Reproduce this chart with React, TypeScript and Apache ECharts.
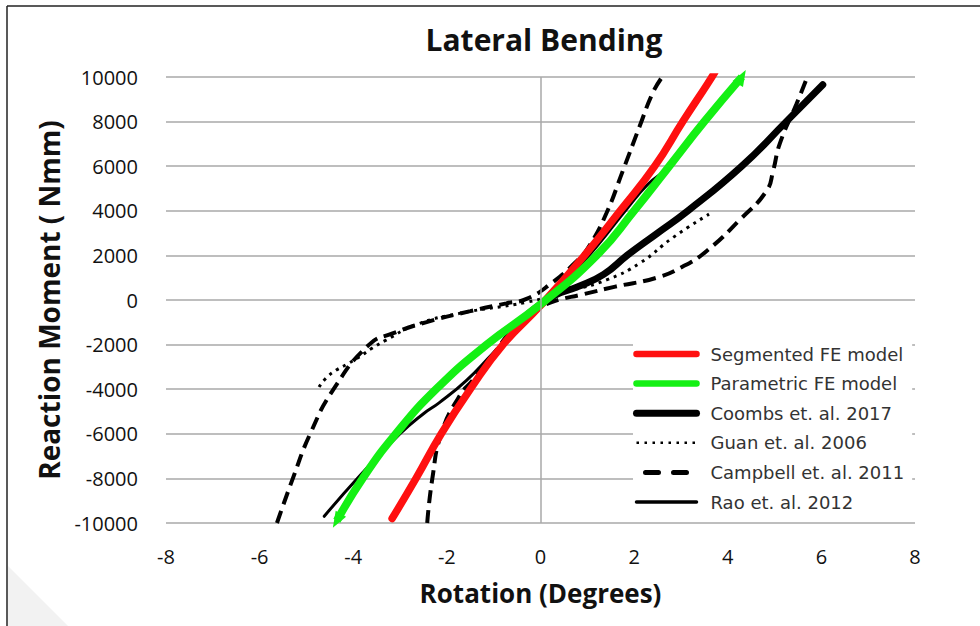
import React, { useEffect, useRef } from "react";
import * as echarts from "echarts";

// ---------- data (Rotation in degrees, Reaction moment in Nmm) ----------
const xTicks = { min: -8, max: 8, interval: 2 };
const yTicks = { min: -10000, max: 10000, interval: 2000 };

const segmented: number[][] = [
  [-3.17, -9800], [-2.66, -8000], [-2.12, -6000], [-1.5, -4000], [-0.8, -2000],
  [0, -250], [0.9, 1900], [1.7, 4000], [2.44, 6000], [3.04, 8000], [3.57, 9700], [3.72, 10200],
];

const parametric: number[][] = [
  [-4.35, -9900], [-3.8, -8000], [-3.09, -6000], [-2.23, -4000], [-1.15, -2000],
  [0, -200], [1.2, 2000], [2.0, 4000], [2.75, 6000], [3.5, 8000], [4.3, 10000],
];

const coombs: number[][] = [
  [-0.25, -600], [0.3, 200], [0.8, 600], [1.35, 1150], [1.85, 2000], [2.5, 3000],
  [3.15, 4000], [4.3, 6000], [5.25, 8000], [6.03, 9650],
];

const guan: number[][] = [
  [-4.73, -3900], [-4.58, -3500], [-4.36, -3140], [-4.15, -2900], [-3.87, -2550],
  [-3.59, -2150], [-3.3, -1800], [-2.65, -1100], [-1.73, -600], [-0.3, -100],
  [0.69, 450], [1.41, 900], [2.12, 1650], [2.83, 2800], [3.6, 3850],
];

const campbellA: number[][] = [
  [-5.63, -10000], [-5.29, -8000], [-4.92, -6000], [-4.42, -4000], [-3.66, -2000],
  [-3.16, -1500], [-2.45, -1000], [-1.5, -500], [-0.73, -150],
  [-0.3, 50], [0.2, 700], [0.8, 1800], [1.05, 2450], [1.41, 3900], [1.76, 5800],
  [2.12, 7800], [2.4, 9300], [2.6, 10000],
];

const campbellB: number[][] = [
  [-2.42, -10000], [-2.31, -8000], [-2.12, -6000], [-1.73, -4300], [-1.45, -3600],
  [-1.0, -2400], [-0.5, -1100], [0, -350], [0.3, -50], [0.9, 250], [1.6, 600],
  [2.48, 1000], [3.04, 1500], [3.55, 2200], [4.26, 3600], [4.83, 4900], [4.97, 5800],
  [5.11, 7000], [5.47, 8800], [5.7, 10000],
];

const rao: number[][] = [
  [-4.62, -9700], [-3.87, -7900], [-3.0, -6000], [-2.5, -5100], [-2.16, -4600],
  [-1.58, -3600], [-1.02, -2400], [-0.5, -1300], [0, -350], [0.6, 1000], [1.2, 2400],
  [1.85, 4100], [2.3, 5200], [2.75, 6000], [3.5, 8000], [4.18, 9700],
];

const names = {
  seg: "Segmented FE model",
  par: "Parametric FE model",
  coo: "Coombs et. al. 2017",
  gua: "Guan et. al. 2006",
  cam: "Campbell et. al. 2011",
  rao: "Rao et. al. 2012",
};

const RED = "#ff1010";
const GREEN = "#14f014";
const BLACK = "#000000";
const GRID = "#a8a8a8";
const SMOOTH = 0.5;

export default function App() {
  const ref = useRef<HTMLDivElement>(null);

  useEffect(() => {
    if (!ref.current) return;
    const chart = echarts.init(ref.current, undefined, { renderer: "svg" });

    const greenData = parametric.map((p, i) => {
      if (i === 0) return { value: p, symbol: "triangle", symbolSize: [12, 16], symbolRotate: 150 };
      if (i === parametric.length - 1)
        return { value: p, symbol: "triangle", symbolSize: [12, 16], symbolRotate: -30 };
      return { value: p };
    });

    const option: any = {
      animation: false,
      backgroundColor: "#ffffff",
      textStyle: { fontFamily: "Open Sans" },
      grid: { left: 166, right: 65, top: 77, bottom: 103, containLabel: false },
      graphic: [
        { type: "line", shape: { x1: 7, y1: 6, x2: 980, y2: 6 }, style: { stroke: "#222", lineWidth: 1.5 } },
        { type: "line", shape: { x1: 7, y1: 6, x2: 7, y2: 626 }, style: { stroke: "#222", lineWidth: 1.5 } },
        { type: "polygon", shape: { points: [[8, 566], [68, 626], [8, 626]] }, style: { fill: "#f2f2f2" }, z: -1 },
        {
          type: "text",
          x: 544,
          y: 39,
          style: {
            text: "Lateral Bending",
            fontFamily: "Open Sans",
            fontWeight: "bold",
            fontSize: 30,
            fill: "#111",
            textAlign: "center",
            textVerticalAlign: "middle",
          },
        },
      ],
      legend: {
        orient: "vertical",
        left: 633,
        top: 343,
        itemWidth: 60,
        itemHeight: 14,
        itemGap: 11.6,
        padding: [2, 8, 6, 0],
        backgroundColor: "#ffffff",
        itemStyle: { color: "rgba(0,0,0,0)", borderWidth: 0, opacity: 0 },
        textStyle: { fontFamily: "DejaVu Sans", fontSize: 18, color: "#333", lineHeight: 18, padding: [0, 0, 0, 9] },
        data: [
          { name: names.seg, lineStyle: { color: RED, width: 6.5, cap: "round", type: "solid" } },
          { name: names.par, lineStyle: { color: GREEN, width: 6.5, cap: "round", type: "solid" } },
          { name: names.coo, lineStyle: { color: BLACK, width: 7, cap: "round", type: "solid" } },
          { name: names.gua, lineStyle: { color: BLACK, width: 2.5, cap: "butt", type: [2.5, 5.5] } },
          { name: names.cam, lineStyle: { color: BLACK, width: 5, cap: "round", type: [13, 15], dashOffset: 19 } },
          { name: names.rao, lineStyle: { color: BLACK, width: 3.5, cap: "round", type: "solid" } },
        ],
      },
      xAxis: {
        type: "value",
        min: xTicks.min,
        max: xTicks.max,
        interval: xTicks.interval,
        name: "Rotation (Degrees)",
        nameLocation: "middle",
        nameGap: 57,
        nameTextStyle: { fontFamily: "Open Sans", fontWeight: "bold", fontSize: 26, color: "#111" },
        axisLine: { show: false },
        axisTick: { show: false },
        splitLine: { show: false },
        axisLabel: { fontFamily: "Open Sans", fontSize: 20, color: "#111", margin: 23, formatter: (v: number) => String(v) },
      },
      yAxis: {
        type: "value",
        min: yTicks.min,
        max: yTicks.max,
        interval: yTicks.interval,
        name: "Reaction Moment ( Nmm)",
        nameLocation: "middle",
        nameGap: 100,
        nameTextStyle: { fontFamily: "Open Sans", fontWeight: "bold", fontSize: 28, color: "#111" },
        axisLine: { show: false },
        axisTick: { show: false },
        splitLine: { show: true, lineStyle: { color: GRID, width: 1.5 } },
        axisLabel: { fontFamily: "Open Sans", fontSize: 20, color: "#111", margin: 28, formatter: (v: number) => String(v) },
      },
      series: [
        {
          name: names.cam,
          type: "line",
          data: campbellA,
          symbol: "none",
          smooth: SMOOTH,
          lineStyle: { color: BLACK, width: 4, type: [13, 7] },
          itemStyle: { color: BLACK },
          markLine: {
            silent: true,
            symbol: "none",
            label: { show: false },
            lineStyle: { color: GRID, width: 1.5, type: "solid" },
            data: [{ xAxis: 0 }],
          },
        },
        {
          name: names.cam,
          type: "line",
          data: campbellB,
          symbol: "none",
          smooth: SMOOTH,
          lineStyle: { color: BLACK, width: 4, type: [13, 7] },
          itemStyle: { color: BLACK },
        },
        {
          name: names.gua,
          type: "line",
          data: guan,
          symbol: "none",
          smooth: SMOOTH,
          lineStyle: { color: BLACK, width: 3, type: [3, 5] },
          itemStyle: { color: BLACK },
        },
        {
          name: names.rao,
          type: "line",
          data: rao,
          symbol: "none",
          smooth: SMOOTH,
          lineStyle: { color: BLACK, width: 3, cap: "round" },
          itemStyle: { color: BLACK },
        },
        {
          name: names.coo,
          type: "line",
          data: coombs,
          symbol: "none",
          smooth: SMOOTH,
          lineStyle: { color: BLACK, width: 7, cap: "round" },
          itemStyle: { color: BLACK },
        },
        {
          name: names.seg,
          type: "line",
          data: segmented,
          symbol: "none",
          smooth: SMOOTH,
          lineStyle: { color: RED, width: 7.5, cap: "round" },
          itemStyle: { color: RED },
        },
        {
          name: names.par,
          type: "line",
          data: greenData,
          symbol: "none",
          showSymbol: true,
          smooth: SMOOTH,
          lineStyle: { color: GREEN, width: 8, cap: "butt" },
          itemStyle: { color: GREEN },
        },
      ],
    };

    chart.setOption(option);
    return () => chart.dispose();
  }, []);

  return (
    <div
      ref={ref}
      style={{ position: "fixed", left: 0, top: 0, width: 980, height: 626, background: "#fff" }}
    />
  );
}
